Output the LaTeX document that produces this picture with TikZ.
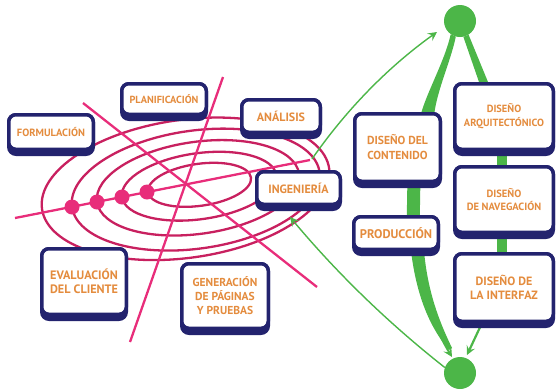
\documentclass[tikz,border=0pt]{standalone}
\usepackage{fontspec}
\setmainfont{PT Sans}
\usepackage{tikz}
\usetikzlibrary{arrows.meta,backgrounds}
\pgfdeclarelayer{boxshade}
\pgfsetlayers{background,boxshade,main}

\definecolor{navy}{RGB}{35,35,110}
\definecolor{boxtext}{RGB}{228,140,62}
\definecolor{ringpink}{RGB}{200,32,95}
\definecolor{linepink}{RGB}{232,45,122}
\definecolor{leafgreen}{RGB}{76,182,72}

\newcommand{\sz}[2]{\fontsize{#1}{#2}\selectfont\bfseries}

\begin{document}
\begin{tikzpicture}[x=1pt, y=-1pt,
    box/.style={draw=navy, line width=3.5pt, fill=white, rounded corners=7pt,
      align=center, text=boxtext, inner sep=0pt},
    hub/.style={circle, fill=leafgreen, minimum size=32pt, inner sep=0pt},
    ring/.style={draw=ringpink, line width=2.3pt},
    spoke/.style={draw=linepink, line width=2.3pt},
    leg/.style={fill=leafgreen},
    band/.style={draw=leafgreen},
    garrow/.style={draw=leafgreen, -{Stealth[length=9pt, width=9pt, inset=3.5pt]}}]
  \useasboundingbox (0,0) rectangle (556,389);

  % spiral side
  \node[box, minimum width=84.5pt, minimum height=34.5pt, font=\sz{10.5}{12}] (formul) at (51,132) {FORMULACIÓN};
  \node[box, minimum width=84.5pt, minimum height=30.5pt, font=\sz{10.3}{12}] (planif) at (164,99) {PLANIFICACIÓN};
  \node[box, minimum width=78.5pt, minimum height=32.5pt, font=\sz{12}{14}] (analisis) at (281,116) {ANÁLISIS};
  \node[box, minimum width=83.5pt, minimum height=32.5pt, font=\sz{12}{14}] (ingen) at (298.5,188) {INGENIERÍA};
  \node[box, minimum width=84.5pt, minimum height=65.5pt, font=\sz{12.2}{14}] (evaluacion) at (84,281.5) {EVALUACIÓN\\DEL CLIENTE};
  \node[box, minimum width=86.5pt, minimum height=64.5pt, font=\sz{11.5}{14}] (generacion) at (225,296) {GENERACIÓN\\DE PÁGINAS\\Y PRUEBAS};

  % web side
  \node[box, minimum width=85.5pt, minimum height=67.5pt, font=\sz{11.6}{15}] (contenido) at (397.5,147.5) {DISEÑO DEL\\CONTENIDO};
  \node[box, minimum width=84.5pt, minimum height=32.5pt, font=\sz{12.5}{14}] (produccion) at (396,233) {PRODUCCIÓN};
  \node[box, minimum width=98.5pt, minimum height=65.5pt, font=\sz{10.4}{14}] (arquitec) at (504,116.5) {DISEÑO\\ARQUITECTÓNICO};
  \node[box, minimum width=98.5pt, minimum height=65.5pt, font=\sz{10.5}{13}] (naveg) at (504,199.5) {DISEÑO\\DE NAVEGACIÓN};
  \node[box, minimum width=98.5pt, minimum height=67.5pt, font=\sz{12}{14}] (interfaz) at (504,287.5) {DISEÑO DE\\LA INTERFAZ};

  \node[hub] (hubtop) at (460,21) {};
  \node[hub] (hubbot) at (460,373) {};
  \coordinate (ingout) at (312,159);

  % heavier bottom edge of every box
  \begin{pgfonlayer}{boxshade}
    \foreach \n in {formul, planif, analisis, ingen, evaluacion, generacion,
                    contenido, produccion, arquitec, naveg, interfaz}
      \fill[navy, rounded corners=9pt] ([yshift=-5pt]\n.south west) rectangle (\n.north east);
  \end{pgfonlayer}

  \begin{scope}[on background layer]
    \foreach \cx/\cy/\rx/\ry in {199.5/184.8/52/21, 199.2/186.2/78/33, 198/187.8/102/46,
                                 195.8/189.6/125/59, 185.6/188.8/145/69}
      \draw[ring, rotate around={8:(\cx,\cy)}] (\cx,\cy) ellipse [x radius=\rx, y radius=\ry];
    \draw[spoke] (15,218) -- (310,160);
    \draw[spoke] (83,103) -- (317,287);
    \draw[spoke] (223,77) -- (130,342);
    \foreach \x/\y in {72/207, 97/202, 122/197, 147/192}
      \fill[linepink] (\x,\y) circle [radius=7.5];

    % green links
    \fill[leg] (hubtop.-125) .. controls (445,60) and (428,90) .. ([xshift=24pt]contenido.north)
      -- ([xshift=37pt]contenido.north) .. controls (438,88) and (451,60) .. (hubtop.-105) -- cycle;
    \fill[leg] (hubtop.-78) -- ([xshift=-25pt]arquitec.north) -- ([xshift=-16pt]arquitec.north) -- (hubtop.-58) -- cycle;
    \draw[band, line width=13pt] ([xshift=17pt]contenido.center) -- ([xshift=17pt]produccion.center);
    \draw[band, line width=10pt] ([xshift=-2pt]arquitec.center) -- ([xshift=-2pt]naveg.center);
    \draw[band, line width=10pt] ([xshift=-2pt]naveg.center) -- ([xshift=-2pt]interfaz.center);
    \fill[leg] ([xshift=15pt]produccion.south) .. controls (417,300) and (432,330) .. (449,350)
      -- (452,348) .. controls (441,325) and (428,295) .. ([xshift=28pt]produccion.south) -- cycle;
    \draw[garrow, line width=2pt] ([xshift=21pt]produccion.south) .. controls (422,300) and (437,332) .. ([shift={(-8,-16)}]hubbot.center);
    \draw[garrow, line width=2.2pt] ([xshift=-22pt]interfaz.south) -- ([shift={(7,-18)}]hubbot.center);
    \draw[garrow, line width=1.4pt] (ingout) .. controls (346,110) and (388,67) .. ([shift={(-23,11)}]hubtop.center);
    \draw[garrow, line width=1.4pt] (hubbot.160) .. controls (387,322) and (336,272) .. ([xshift=-8.5pt, yshift=-11pt]ingen.south);
  \end{scope}
\end{tikzpicture}
\end{document}
